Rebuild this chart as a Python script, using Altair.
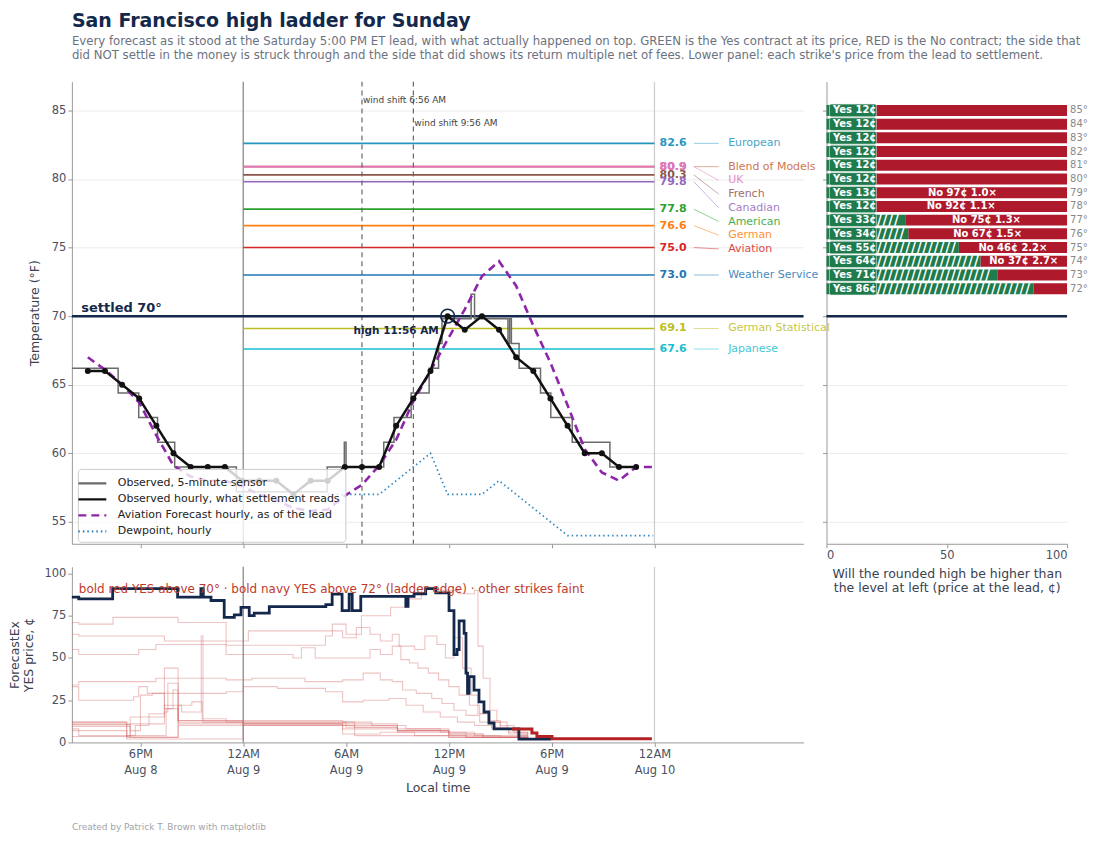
import math
import altair as alt
import pandas as pd

# ---------------- data (hours measured from midnight that starts Aug 9, local time) ----------------
tick_hours = [-6, 0, 6, 12, 18, 24]
tick_time = ["6PM", "12AM", "6AM", "12PM", "6PM", "12AM"]
tick_day = ["Aug 8", "Aug 9", "Aug 9", "Aug 9", "Aug 9", "Aug 10"]

obs_hour = [-9.07, -8.07, -7.07, -6.07, -5.07, -4.07, -3.07, -2.07, -1.07, -0.07,
            0.93, 1.93, 2.93, 3.93, 4.93, 5.93, 6.93, 7.93, 8.93, 9.93, 10.93, 11.93,
            12.93, 13.93, 14.93, 15.93, 16.93, 17.93, 18.93, 19.93, 20.93, 21.93, 22.93]
obs_temp = [66, 66, 65, 64, 62, 60, 59, 59, 59, 58,
            58, 58, 57, 58, 58, 59, 59, 59, 62, 64, 66, 70,
            69, 70, 69, 67, 66, 64, 62, 60, 60, 59, 59]

avn_hour = [-9.07, -8.07, -7.07, -6.07, -5.07, -4.07, -3.07, -2.07, -1.07, -0.07,
            0.93, 1.93, 2.93, 3.93, 4.93, 5.93, 6.93, 7.93, 8.93, 9.93, 10.93, 11.93,
            12.93, 13.93, 14.93, 15.93, 16.93, 17.93, 18.93, 19.93, 20.93, 21.93, 22.93, 23.93]
avn_temp = [67.0, 66.1, 65.0, 63.7, 61.3, 59.1, 58.3, 58.0, 58.0, 57.6,
            57.0, 56.6, 56.0, 55.8, 55.9, 56.9, 57.7, 59.1, 61.0, 63.8, 66.0, 68.3,
            70.5, 72.9, 74.0, 72.2, 69.3, 66.6, 63.5, 60.3, 58.6, 58.0, 59.0, 59.0]

dew_hour = [4.93, 5.93, 6.93, 7.93, 8.93, 9.93, 10.93, 11.93, 12.93, 13.93,
            14.93, 15.93, 16.93, 17.93, 18.93, 19.93, 20.93, 21.93, 22.93, 23.93]
dew_temp = [57, 57, 57, 57, 58, 59, 60, 57, 57, 57,
            58, 57, 56, 55, 54, 54, 54, 54, 54, 54]

sensor_hour = [-10.0, -7.3, -6.1, -5.0, -4.0, -0.4, 4.9, 5.9, 6.0, 8.2, 8.8, 9.8, 10.85,
               11.4, 11.6, 13.3, 13.5, 15.45, 15.55, 15.65, 16.1, 17.35, 17.95, 19.2, 21.4, 22.95]
sensor_temp = [66.2, 64.4, 62.6, 60.8, 59.0, 57.2, 59.0, 60.8, 59.0, 60.8, 62.6, 64.4, 66.2,
               68.0, 69.8, 71.6, 69.8, 68.0, 69.8, 68.0, 66.2, 64.4, 62.6, 60.8, 59.0, 59.0]

wind_shift_hour = [6.93, 9.93]
wind_shift_text = ["wind shift 6:56 AM", "wind shift 9:56 AM"]

model_names = ["European", "Blend of Models", "UK", "French", "Canadian", "American",
               "German", "Aviation", "Weather Service", "German Statistical", "Japanese"]
model_highs = [82.6, 80.9, 80.9, 80.3, 79.8, 77.8, 76.6, 75.0, 73.0, 69.1, 67.6]
model_colors = ["#2596be", "#c4602f", "#e377c2", "#8c564b", "#9467bd", "#2ca02c",
                "#ff7f0e", "#d62728", "#1f77b4", "#bcbd22", "#17becf"]

settled_high = 70

ladder_strike = [85, 84, 83, 82, 81, 80, 79, 78, 77, 76, 75, 74, 73, 72]
ladder_yes = [12, 12, 12, 12, 12, 12, 13, 12, 33, 34, 55, 64, 71, 86]
ladder_no_text = ["", "", "", "", "", "", "No 97¢  1.0×", "No 92¢  1.1×", "No 75¢  1.3×",
                  "No 67¢  1.5×", "No 46¢  2.2×", "No 37¢  2.7×", "", ""]

navy72_hour = [-10.0, -9.6, -7.62, -3.83, -2.47, -2.33, -1.88, -1.11, -0.52, -0.13, 0.35, 0.64,
               1.52, 4.82, 5.19, 5.77, 6.18, 6.36, 6.86, 9.49, 9.62, 9.97, 10.65, 11.24, 12.01,
               12.30, 12.48, 12.6, 12.89, 13.0, 13.09, 13.18, 13.47, 13.76, 14.05, 14.34, 14.64,
               16.09, 17.96]
navy72_price = [86, 85, 91, 86, 91, 86, 84, 74, 75.5, 80, 75, 76.5,
                80.4, 81.6, 87.8, 78, 87.8, 78, 86.5, 80.5, 86.5, 88, 91, 88.5, 78,
                52, 55, 72, 64.5, 41, 29, 39, 31, 24, 18, 11.5, 8,
                2, 2]

red70_hour = [15.68, 16.85, 17.14, 18.02, 23.85]
red70_price = [8, 5.5, 3.5, 2.2, 2.2]

f73 = [(-10, 71), (-9.6, 70), (-7.6, 74), (-3.8, 71), (-1.0, 57.5), (4.8, 63), (5.2, 70), (6.0, 64),
       (6.9, 75), (8.6, 80), (9.6, 85), (10.4, 92), (11.2, 90), (12.6, 88), (13.5, 90), (13.7, 57),
       (14.0, 38), (14.4, 19), (14.8, 12), (15.4, 8), (16.0, 5), (16.6, 5)]
f74 = [(-10, 64), (-9.6, 63), (-5.1, 63), (-4.6, 60), (-1.0, 60), (0.3, 66), (4.8, 66), (5.8, 62),
       (6.6, 68), (7.4, 64), (8.0, 60), (8.7, 64), (9.1, 57), (10.0, 55), (10.6, 63), (11.3, 58),
       (11.8, 50), (12.3, 62), (12.8, 44), (13.3, 28), (13.7, 17), (14.3, 12), (15.0, 8), (16.0, 4),
       (16.6, 4)]
f75 = [(-10, 55), (-9.6, 52), (-6.9, 52), (-6.1, 55), (-5.1, 58), (-2.4, 58), (-1.0, 52), (2.9, 50),
       (3.4, 56), (4.2, 50), (5.8, 50), (7.4, 55), (8.0, 52), (8.7, 57), (9.2, 49), (9.7, 47),
       (10.2, 44), (10.8, 41), (11.4, 37), (12.0, 33), (12.6, 28), (13.2, 22), (13.8, 17),
       (14.4, 13), (15.0, 10), (15.8, 6), (16.6, 5)]
f76 = [(-10, 34), (-9.6, 36), (-5.1, 38), (-1.0, 37), (0.5, 38), (2.9, 38), (3.6, 36), (5.8, 37),
       (7.0, 41), (8.0, 37), (8.7, 36), (9.3, 31), (10.1, 29), (11.0, 26), (11.6, 23), (12.3, 19),
       (13.0, 16), (13.8, 12), (14.5, 9), (15.5, 6), (16.6, 4)]
f77 = [(-10, 33), (-9.6, 25), (-6.4, 27), (-6.1, 33), (-5.6, 29), (-1.0, 30), (0.0, 33), (2.0, 32),
       (4.8, 30), (5.8, 24), (7.0, 25), (8.5, 26), (9.5, 22), (10.5, 18), (11.5, 15), (12.5, 12),
       (13.5, 10), (14.5, 8), (15.5, 5), (16.6, 4)]
f78 = [(-10, 12), (-6.8, 12), (-6.8, 3), (-3.8, 3), (-3.8, 22), (-3.0, 24), (-2.4, 14), (-1.0, 13),
       (3.0, 13), (5.8, 12), (7.5, 10), (9.5, 8), (11.5, 6), (13.5, 4), (15.0, 3), (16.6, 2)]
f79 = [(-10, 11), (-6.8, 11), (-6.8, 4), (-4.6, 4), (-4.5, 20), (-3.8, 20), (-3.8, 13), (0.0, 12),
       (5.8, 12), (6.5, 9), (9.0, 7), (12.0, 5), (14.0, 3), (16.6, 2)]
f80 = [(-10, 9.5), (-6.8, 9.5), (-6.6, 7), (-6.0, 28), (-5.3, 29), (-4.6, 20), (-4.1, 31),
       (-3.8, 13), (-1.0, 12), (6.0, 10), (9.0, 8), (12.0, 5), (14.0, 3), (16.6, 2)]
f81 = [(-10, 8), (-9.6, 4), (-6.8, 4), (-6.3, 10), (-5.5, 17), (-4.6, 18), (-4.4, 35), (-3.8, 12),
       (0.0, 11), (4.8, 11), (5.8, 5), (8.0, 6), (10.0, 4), (13.0, 3), (16.6, 2)]
f82 = [(-10, 3.5), (-6.8, 3.5), (-6.6, 15), (-5.8, 15), (-4.6, 44), (-4.0, 44), (-3.8, 11),
       (0.0, 10), (5.8, 10), (6.5, 4), (12.0, 3), (16.6, 1.5)]
f83 = [(-10, 12), (-6.8, 11), (-4.6, 22), (-3.6, 18), (-2.45, 63), (-2.35, 12), (0.0, 11),
       (5.8, 8), (9.0, 7), (12.0, 4), (16.6, 2)]
f84 = [(-10, 10.5), (-6.8, 10.5), (-6.6, 3), (-3.8, 3), (-3.8, 10), (0.0, 10), (6.0, 9), (9.0, 6),
       (13.0, 3), (16.6, 1.5)]
f85 = [(-10, 7), (-6.8, 7), (-6.8, 2), (-3.8, 2), (0.0, 11), (6.0, 11), (9.0, 7), (12.0, 3),
       (16.6, 1.5)]
faint_strikes = [73, 74, 75, 76, 77, 78, 79, 80, 81, 82, 83, 84, 85]
faint_series = [f73, f74, f75, f76, f77, f78, f79, f80, f81, f82, f83, f84, f85]

title_text = "San Francisco high ladder for Sunday"
subtitle_lines = [
    "Every forecast as it stood at the Saturday 5:00 PM ET lead, with what actually happened on top. GREEN is the Yes contract at its price, RED is the No contract; the side that",
    "did NOT settle in the money is struck through and the side that did shows its return multiple net of fees. Lower panel: each strike's price from the lead to settlement.",
]
lower_note = "bold red YES above 70° · bold navy YES above 72° (ladder edge) · other strikes faint"
footer = "Created by Patrick T. Brown with matplotlib"

series_names = ["Observed, 5-minute sensor", "Observed hourly, what settlement reads",
                "Aviation Forecast hourly, as of the lead", "Dewpoint, hourly"]

# ---------------- style ----------------
FONT = "DejaVu Sans"
NAVY = "#14284b"
GREEN = "#1f7a4c"
RED = "#ae1a2c"
W_MAIN, H_MAIN = 733, 463
W_RIGHT = 241
H_LOW = 176
X_DOMAIN = [-10, 32.7]
T_DOMAIN = [53.4, 87.1]
BOX_PX = 50

xscale = alt.Scale(domain=X_DOMAIN, nice=False, zero=False)
tscale = alt.Scale(domain=T_DOMAIN, nice=False, zero=False)

label_expr = "[" + ",".join(f"['{a}','{b}']" for a, b in zip(tick_time, tick_day)) + \
    "][round((datum.value + 6) / 6)]"

axis_x_main = alt.Axis(values=tick_hours, labels=False, title=None, grid=False, tickSize=4)
axis_t_main = alt.Axis(values=[55, 60, 65, 70, 75, 80, 85], grid=True, title="Temperature (°F)",
                       tickSize=4, titlePadding=10)


def XM(field):
    return alt.X(field, type="quantitative", scale=xscale, axis=axis_x_main)


def YM(field):
    return alt.Y(field, type="quantitative", scale=tscale, axis=axis_t_main)


# ---------------- main panel ----------------
models = pd.DataFrame({"name": model_names, "high": model_highs, "color": model_colors})
models["start"] = 0
models["end"] = 24
models["val_text"] = [f"{v:.1f}" for v in model_highs]
order = sorted(range(len(model_highs)), key=lambda i: -model_highs[i])
label_y = [0.0] * len(model_highs)
prev = None
for i in order:
    p = model_highs[i] if prev is None else min(model_highs[i], prev - 1.0)
    label_y[i] = p
    prev = p
models["label_y"] = label_y

legend_def = alt.Legend(title=None, orient="none", legendX=6, legendY=388,
                        symbolType="M-1.75,0L1.75,0", symbolSize=256, symbolStrokeWidth=2.2,
                        labelFontSize=11, labelColor="#222222", labelLimit=400,
                        fillColor="rgba(255,255,255,0.8)", strokeColor="#cccccc",
                        padding=5, cornerRadius=3, rowPadding=1, labelOffset=16)
color_enc = alt.Color("series:N", scale=alt.Scale(domain=series_names,
                                                   range=["#6b6b6b", "#111111", "#8e24aa", "#2e86c1"]),
                      legend=legend_def)
dash_enc = alt.StrokeDash("series:N", scale=alt.Scale(domain=series_names,
                                                       range=[[1, 0], [1, 0], [8, 5], [1.5, 3]]),
                          legend=legend_def)

day_rule = alt.Chart(pd.DataFrame({"t": [0]})).mark_rule(strokeWidth=1.3, color="#8a8a8a").encode(x=XM("t"))
next_rule = alt.Chart(pd.DataFrame({"t": [24]})).mark_rule(strokeWidth=1.3, color="#d0d0d0").encode(x=XM("t"))

forecast_rules = alt.Chart(models).mark_rule(strokeWidth=1.6).encode(
    x=XM("start"), x2="end:Q", y=YM("high"), stroke=alt.Stroke("color:N", scale=None))
forecast_vals = alt.Chart(models).mark_text(align="left", baseline="middle", fontWeight="bold",
                                            fontSize=11, font=FONT).encode(
    x=alt.datum(24.3), y=YM("high"), text="val_text:N", fill=alt.Fill("color:N", scale=None))
connectors = alt.Chart(models).mark_rule(strokeWidth=1, opacity=0.5).encode(
    x=alt.datum(26.3), x2=alt.datum(27.75), y=YM("high"), y2="label_y:Q",
    stroke=alt.Stroke("color:N", scale=None))
names = alt.Chart(models).mark_text(align="left", baseline="middle", fontSize=11, opacity=0.85,
                                    font=FONT).encode(
    x=alt.datum(28.3), y=YM("label_y"), text="name:N", fill=alt.Fill("color:N", scale=None))

wind_df = pd.DataFrame({"t": wind_shift_hour, "label": wind_shift_text})
wind_rules = alt.Chart(wind_df).mark_rule(strokeDash=[5, 4], color="#666666", strokeWidth=1.2).encode(
    x=XM("t"))
wind_txt1 = alt.Chart(wind_df.iloc[[0]]).mark_text(align="left", baseline="middle", fontSize=9,
                                                   color="#444444", dx=1, font=FONT).encode(
    x=XM("t"), y=alt.value(18), text="label:N")
wind_txt2 = alt.Chart(wind_df.iloc[[1]]).mark_text(align="left", baseline="middle", fontSize=9,
                                                   color="#444444", dx=1, font=FONT).encode(
    x=XM("t"), y=alt.value(41), text="label:N")

settled_rule = alt.Chart(pd.DataFrame({"v": [settled_high]})).mark_rule(color=NAVY, strokeWidth=2.5).encode(
    y=YM("v"))
settled_txt = alt.Chart(pd.DataFrame({"v": [settled_high], "t": [-9.45],
                                      "label": [f"settled {settled_high}°"]})).mark_text(
    align="left", baseline="bottom", fontWeight="bold", fontSize=13, color=NAVY, dy=-1, font=FONT).encode(
    x=XM("t"), y=YM("v"), text="label:N")

sensor_df = pd.DataFrame({"t": sensor_hour, "v": sensor_temp, "series": series_names[0]})
hourly_df = pd.DataFrame({"t": obs_hour, "v": obs_temp, "series": series_names[1]})
avn_df = pd.DataFrame({"t": avn_hour, "v": avn_temp, "series": series_names[2]})
dew_df = pd.DataFrame({"t": dew_hour, "v": dew_temp, "series": series_names[3]})

dew_line = alt.Chart(dew_df).mark_line(strokeWidth=1.7).encode(
    x=XM("t"), y=YM("v"), color=color_enc, strokeDash=dash_enc)
sensor_line = alt.Chart(sensor_df).mark_line(interpolate="step-after", strokeWidth=1.5).encode(
    x=XM("t"), y=YM("v"), color=color_enc, strokeDash=dash_enc)
avn_line = alt.Chart(avn_df).mark_line(strokeWidth=2.6).encode(
    x=XM("t"), y=YM("v"), color=color_enc, strokeDash=dash_enc)
hourly_line = alt.Chart(hourly_df).mark_line(strokeWidth=2.5).encode(
    x=XM("t"), y=YM("v"), color=color_enc, strokeDash=dash_enc)
hourly_pts = alt.Chart(hourly_df).mark_circle(size=36, opacity=1).encode(
    x=XM("t"), y=YM("v"), fill=alt.value("#111111"))

imax = max(range(len(obs_temp)), key=lambda i: obs_temp[i])
high_df = pd.DataFrame({"t": [obs_hour[imax]], "v": [obs_temp[imax]], "label": ["high 11:56 AM"]})
high_circle = alt.Chart(high_df).mark_point(shape="circle", filled=False, size=190, strokeWidth=1.6,
                                            opacity=1).encode(
    x=XM("t"), y=YM("v"), stroke=alt.value(NAVY))
high_txt = alt.Chart(high_df).mark_text(align="right", baseline="middle", fontWeight="bold",
                                        fontSize=10.5, dx=-9, dy=15, font=FONT).encode(
    x=XM("t"), y=YM("v"), text="label:N", fill=alt.value(NAVY))

main = alt.layer(
    day_rule, next_rule, forecast_rules, wind_rules, wind_txt1, wind_txt2, settled_rule, settled_txt,
    dew_line, sensor_line, avn_line, hourly_line, hourly_pts, high_circle, high_txt,
    forecast_vals, connectors, names,
).properties(width=W_MAIN, height=H_MAIN)

# ---------------- ladder panel ----------------
HATCH_SIZE = 17
slash_w = 0.337 * HATCH_SIZE
px_per_unit = W_RIGHT / 100.0
ladder = pd.DataFrame({"strike": ladder_strike, "yes": ladder_yes, "no_text": ladder_no_text})
ladder["lo"] = ladder["strike"] - 0.4
ladder["hi"] = ladder["strike"] + 0.4
ladder["blo"] = ladder["strike"] - 0.46
ladder["bhi"] = ladder["strike"] + 0.46
ladder["zero"] = 0
ladder["full"] = 100
ladder["mid"] = (ladder["yes"] + 100) / 2
ladder["yes_text"] = [f"Yes {v}¢" for v in ladder_yes]
ladder["strike_text"] = [f"{s}°" for s in ladder_strike]
# white hatching (struck-through Yes side) drawn only where the bar extends past the label box
ladder["hatch"] = ["/" * max(0, int((v * px_per_unit - BOX_PX - 1) // slash_w)) for v in ladder_yes]

xr = alt.Scale(domain=[0, 100], nice=False)
axis_x_r = alt.Axis(values=[0, 50, 100], title=["Will the rounded high be higher than",
                                                "the level at left (price at the lead, ¢)"],
                    grid=False, tickSize=4, titlePadding=6)
axis_t_r = alt.Axis(values=[55, 60, 65, 70, 75, 80, 85], labels=False, title=None, grid=True, tickSize=4)


def XR(field):
    return alt.X(field, type="quantitative", scale=xr, axis=axis_x_r)


def YR(field):
    return alt.Y(field, type="quantitative", scale=tscale, axis=axis_t_r)


red_bars = alt.Chart(ladder).mark_rect(color=RED).encode(x=XR("yes"), x2="full:Q", y=YR("lo"), y2="hi:Q")
green_bars = alt.Chart(ladder).mark_rect(color=GREEN).encode(x=XR("zero"), x2="yes:Q", y=YR("lo"), y2="hi:Q")
hatch = alt.Chart(ladder).mark_text(align="left", baseline="middle", fontSize=HATCH_SIZE, color="white",
                                    font=FONT, dy=0.5).encode(
    x=alt.value(BOX_PX), y=YR("strike"), text="hatch:N")
boxes = alt.Chart(ladder).mark_rect(color=GREEN, cornerRadius=2, stroke="#e8f1ec", strokeWidth=0.6).encode(
    x=alt.value(3), x2=alt.value(BOX_PX), y=YR("blo"), y2="bhi:Q")
yes_txt = alt.Chart(ladder).mark_text(align="left", baseline="middle", fontWeight="bold", fontSize=10,
                                      color="white", font=FONT).encode(
    x=alt.value(6.5), y=YR("strike"), text="yes_text:N")
no_txt = alt.Chart(ladder).mark_text(align="center", baseline="middle", fontWeight="bold", fontSize=10,
                                     color="white", font=FONT).encode(
    x=XR("mid"), y=YR("strike"), text="no_text:N")
strike_txt = alt.Chart(ladder).mark_text(align="left", baseline="middle", fontSize=10, color="#888888",
                                         dx=3, font=FONT).encode(
    x=XR("full"), y=YR("strike"), text="strike_text:N")
ladder_settled = alt.Chart(pd.DataFrame({"v": [settled_high]})).mark_rule(color=NAVY, strokeWidth=2.5).encode(
    y=YR("v"))

right = alt.layer(red_bars, green_bars, hatch, boxes, yes_txt, no_txt, strike_txt, ladder_settled).properties(
    width=W_RIGHT, height=H_MAIN)

# ---------------- lower panel ----------------
rows = []
for s, pts in zip(faint_strikes, faint_series):
    for k, (t, p) in enumerate(pts):
        rows.append({"strike": s, "t": t, "p": p, "k": k})
faint_df = pd.DataFrame(rows)
navy_df = pd.DataFrame({"t": navy72_hour, "p": navy72_price, "k": range(len(navy72_hour))})
red_df = pd.DataFrame({"t": red70_hour, "p": red70_price, "k": range(len(red70_hour))})

pscale = alt.Scale(domain=[0, 104], nice=False)
axis_x_low = alt.Axis(values=tick_hours, labelExpr=label_expr, title="Local time", grid=False, tickSize=4,
                      labelLineHeight=16, titlePadding=6)
axis_p_low = alt.Axis(values=[0, 25, 50, 75, 100], title=["ForecastEx", "YES price, ¢"], grid=False,
                      tickSize=4, titlePadding=8)


def XL(field):
    return alt.X(field, type="quantitative", scale=xscale, axis=axis_x_low)


def YL(field):
    return alt.Y(field, type="quantitative", scale=pscale, axis=axis_p_low)


low_day = alt.Chart(pd.DataFrame({"t": [0]})).mark_rule(strokeWidth=1.3, color="#8a8a8a").encode(x=XL("t"))
low_next = alt.Chart(pd.DataFrame({"t": [24]})).mark_rule(strokeWidth=1.3, color="#d0d0d0").encode(x=XL("t"))
faint = alt.Chart(faint_df).mark_line(interpolate="step-after", color="#d46a6a", opacity=0.4,
                                      strokeWidth=1.1).encode(
    x=XL("t"), y=YL("p"), detail="strike:N", order="k:Q")
red_line = alt.Chart(red_df).mark_line(interpolate="step-after", color="#b22222", strokeWidth=3).encode(
    x=XL("t"), y=YL("p"), order="k:Q")
navy_line = alt.Chart(navy_df).mark_line(interpolate="step-after", color=NAVY, strokeWidth=2.8).encode(
    x=XL("t"), y=YL("p"), order="k:Q")
note = alt.Chart(pd.DataFrame({"label": [lower_note]})).mark_text(
    align="left", baseline="middle", fontSize=12, color="#c0392b", font=FONT).encode(
    x=alt.value(7), y=alt.value(22), text="label:N")

lower = alt.layer(low_day, low_next, faint, navy_line, red_line, note).properties(
    width=W_MAIN, height=H_LOW,
    title=alt.TitleParams(footer, orient="bottom", anchor="start", frame="group", fontSize=9,
                          fontWeight="normal", color="#a0a4ac", offset=29, font=FONT))

# ---------------- compose ----------------
chart = alt.concat(main, right, lower, columns=2, spacing={"row": 23, "column": 23},
                   bounds="flush", align="each").properties(
    title=alt.TitleParams(title_text, subtitle=subtitle_lines, anchor="start", frame="group",
                          fontSize=19, fontWeight="bold", color=NAVY, font=FONT,
                          subtitleFontSize=11.75, subtitleColor="#6b7280", subtitleFont=FONT,
                          subtitlePadding=5, subtitleLineHeight=14, offset=19),
    padding={"left": 0, "top": 3, "right": 4, "bottom": 4},
).configure(font=FONT).configure_view(stroke=None).configure_axis(
    labelFont=FONT, titleFont=FONT, labelColor="#4a5162", titleColor="#3a4150",
    domainColor="#9a9a9a", tickColor="#9a9a9a", labelFontSize=11.5, titleFontSize=12.5,
    titleFontWeight="normal", gridColor="#ebebeb")

chart.save("out.html", embed_options={"renderer": "svg", "actions": False})
